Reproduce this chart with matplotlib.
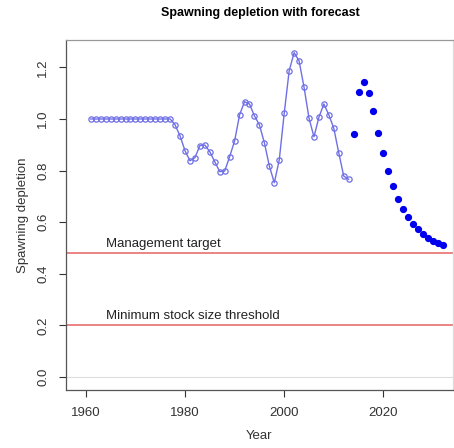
import matplotlib.pyplot as plt

plt.rcParams['font.family'] = ['Liberation Sans', 'DejaVu Sans']

# historical spawning depletion
hist_years = list(range(1961, 2014))
hist_vals = [1.0] * 17 + [
    0.977, 0.934, 0.877, 0.838, 0.850, 0.897, 0.899, 0.873, 0.834, 0.796,
    0.798, 0.854, 0.915, 1.016, 1.067, 1.058, 1.012, 0.977, 0.908, 0.818,
    0.753, 0.841, 1.022, 1.187, 1.257, 1.225, 1.123, 1.003, 0.931, 1.007,
    1.058, 1.016, 0.964, 0.869, 0.779, 0.766,
]

# forecast
fc_years = list(range(2014, 2033))
fc_vals = [0.942, 1.106, 1.142, 1.102, 1.031, 0.947, 0.867, 0.798, 0.740,
           0.690, 0.652, 0.619, 0.593, 0.572, 0.554, 0.540, 0.528, 0.518, 0.512]

target = 0.48
threshold = 0.2

fig = plt.figure(figsize=(4.54, 4.48), dpi=100)
ax = fig.add_axes([0.1454, 0.1295, 0.852, 0.7812])

ax.axhline(0.0, color='#dddddd', lw=0.8)
ax.axhline(target, color='#e87070', lw=1.2)
ax.axhline(threshold, color='#e87070', lw=1.2)
ax.text(1964, target + 0.012, 'Management target', fontsize=9.5, color='#222222', va='bottom')
ax.text(1964, threshold + 0.012, 'Minimum stock size threshold', fontsize=9.5, color='#222222', va='bottom')

ax.plot(hist_years, hist_vals, color='#6f6fe6', lw=1.0, marker='o', ms=3.8,
        mfc='none', mec='#6f6fe6', mew=0.9)
ax.plot(fc_years, fc_vals, ls='none', marker='o', ms=4.2, color='#0000ee')

ax.set_xlim(1956, 2034)
ax.set_ylim(-0.05, 1.306)
ax.set_xticks([1960, 1980, 2000, 2020])
ax.set_yticks([0.0, 0.2, 0.4, 0.6, 0.8, 1.0, 1.2])
ax.set_yticklabels(['0.0', '0.2', '0.4', '0.6', '0.8', '1.0', '1.2'], rotation=90, va='center')
ax.tick_params(labelsize=9.5, colors='#333333', length=5, width=0.8, pad=7)

for s in ax.spines.values():
    s.set_color('#555555')
    s.set_linewidth(0.9)
ax.spines['top'].set_color('#999999')
ax.spines['right'].set_color('#dddddd')

ax.set_xlabel('Year', fontsize=9.5, color='#333333', labelpad=8)
ax.set_ylabel('Spawning depletion', fontsize=9.5, color='#333333', labelpad=6)
fig.text(0.574, 0.972, 'Spawning depletion with forecast', ha='center', va='center',
         fontsize=9, fontweight='bold')

fig.savefig('out.png', dpi=100)
